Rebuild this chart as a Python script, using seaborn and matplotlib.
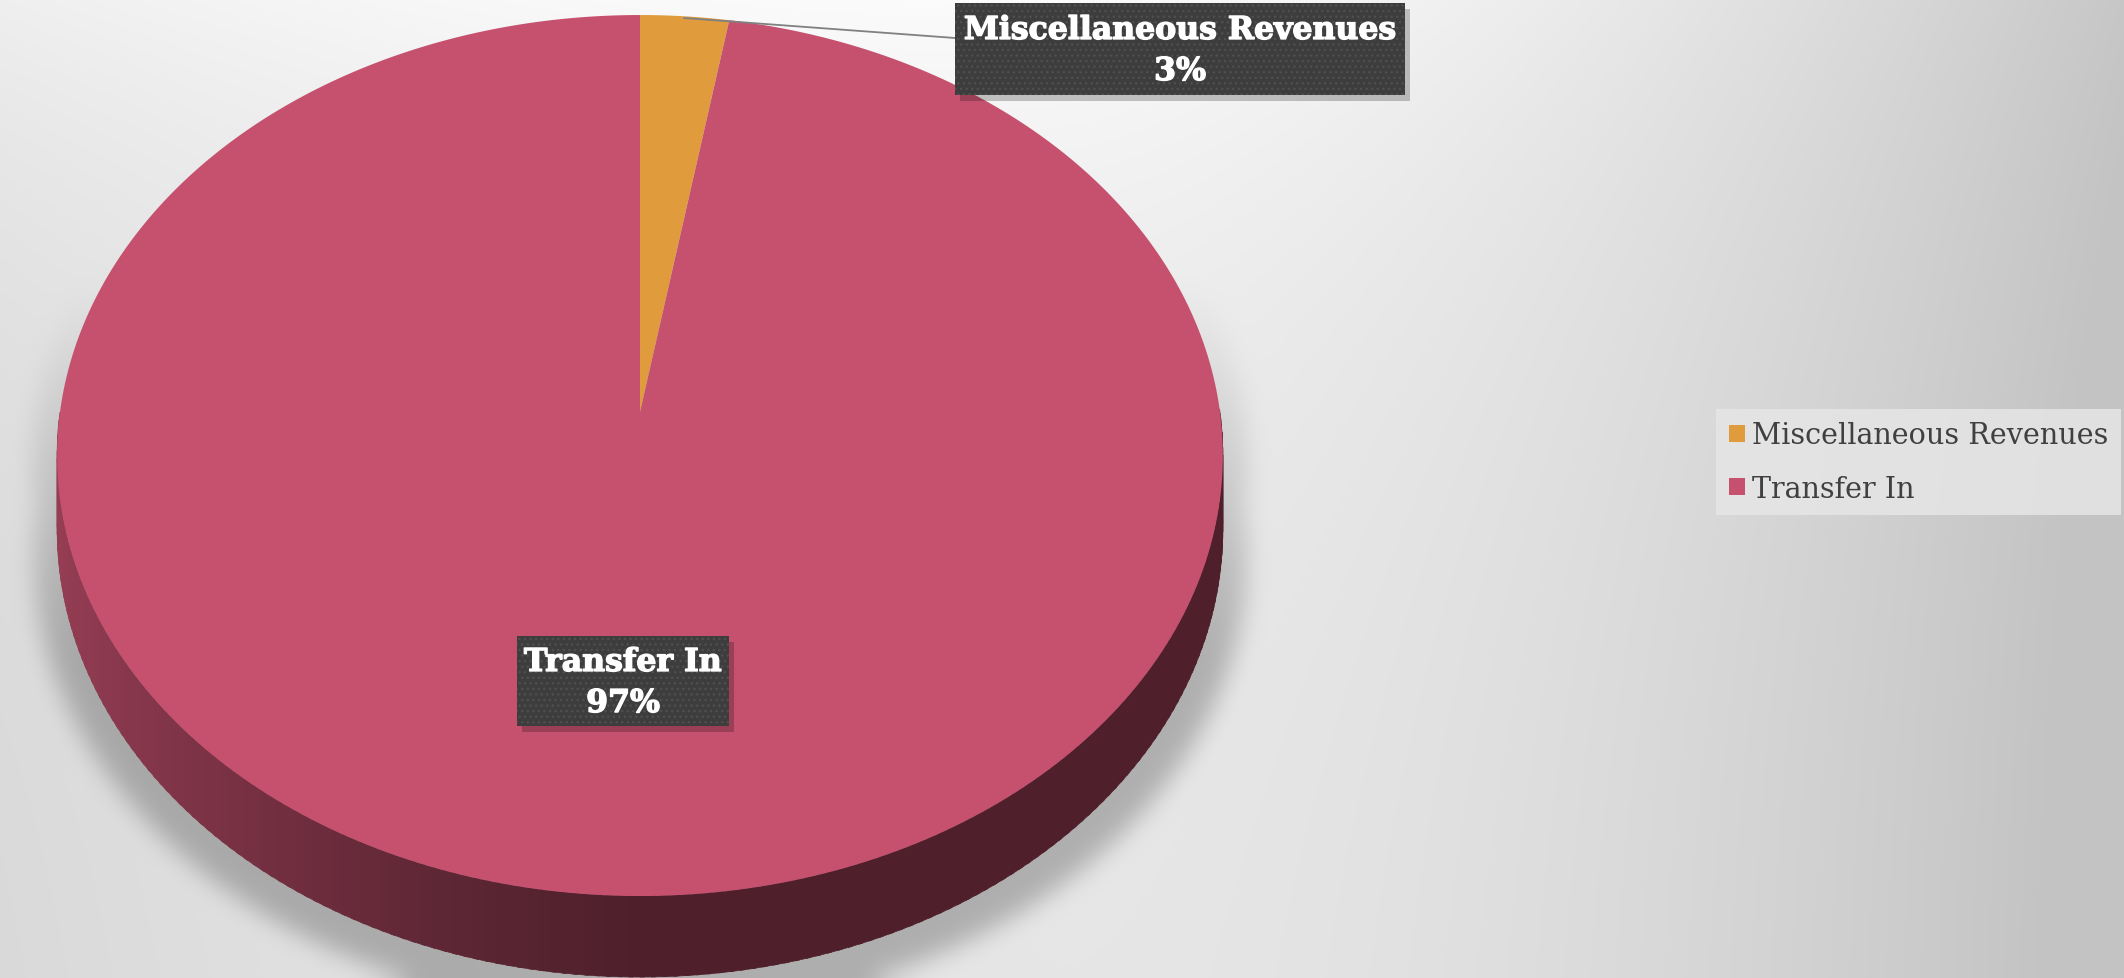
import numpy as np
import matplotlib
matplotlib.use("Agg")
import matplotlib.pyplot as plt
import seaborn as sns
import matplotlib.patheffects as pe
from matplotlib.patches import Polygon, Rectangle
from matplotlib.colors import to_rgb

# ---- data ----
categories = ["Miscellaneous Revenues", "Transfer In"]
shares = [2.7, 97.3]
colors = ["#E09B3C", "#C6516F"]

W, H = 2124, 979
sns.set_theme(style="white")
plt.rcParams['font.family'] = ['DejaVu Serif', 'DejaVu Sans']
plt.rcParams['hatch.color'] = '#545454'
plt.rcParams['hatch.linewidth'] = 1.0

fig = plt.figure(figsize=(W / 100, H / 100), dpi=100)

# perspective model of the tilted disc (pixel coords, y down)
CX, CY, R0, A, K, D = 640, 413, 580, 436.2, 0.0988, 73

def proj(x, v, h=0.0):
    s = 1.0 / (1.0 + K * v)
    return CX + R0 * x * s, CY - A * v * s + D * s * h

# ---- background with soft shadow ----
yy, xx = np.mgrid[0:H, 0:W].astype(float)
xr = np.clip((xx - 1000) / 1124, 0, 1)
yterm = 0.09 * (1 - np.exp(-yy / 350))
bg = (0.985 - 0.048 * ((xx - 1000) / 1000) ** 2 - 0.145 * xr ** 1.6
      - yterm * (1 - 0.6 * xr))
bg = np.maximum(bg, 0.765)

def box_blur(a, r):
    for axis in (0, 1):
        for _ in range(3):
            pad = [(r + 1, r) if i == axis else (0, 0) for i in range(2)]
            c = np.cumsum(np.pad(a, pad, mode='edge'), axis=axis)
            if axis == 0:
                a = (c[2 * r + 1:, :] - c[:-2 * r - 1, :]) / (2 * r + 1)
            else:
                a = (c[:, 2 * r + 1:] - c[:, :-2 * r - 1]) / (2 * r + 1)
    return a

def inside(X, Y, scale=1.0):
    u = (CY - Y) / A
    v = u / (1 - K * u)
    x = (X - CX) * (1 + K * v) / R0
    return (x ** 2 + v ** 2) <= scale ** 2

sh = (inside(xx, yy, 1.04) | inside(xx, yy - 95, 1.04)).astype(float)
sh *= np.clip((yy - 280) / 380, 0, 1)
sh = box_blur(sh, 11)
bg = bg * (1 - 0.24 * sh)

bg_ax = fig.add_axes([0, 0, 1, 1], zorder=0)
bg_ax.imshow(np.dstack([bg, bg, bg]), extent=(0, W, H, 0), aspect='auto', interpolation='bilinear')
bg_ax.set_xlim(0, W); bg_ax.set_ylim(H, 0); bg_ax.axis('off')

# ---- pie computed by the library, then drawn in perspective ----
calc_ax = fig.add_axes([0, 0, 0.01, 0.01], zorder=-1)
wedges, _ = calc_ax.pie(shares, colors=colors, startangle=90, counterclock=False)
calc_ax.set_visible(False)

ov = fig.add_axes([0, 0, 1, 1], zorder=2)
ov.patch.set_alpha(0)
ov.set_xlim(0, W); ov.set_ylim(H, 0); ov.axis('off')

# side of the cylinder
step = 1.0
for a in np.arange(180, 360, step):
    mid = a + step / 2
    for w in wedges:
        if (mid - w.theta1) % 360 <= (w.theta2 - w.theta1):
            base = np.array(to_rgb(w.get_facecolor()[:3]))
            f = 0.40 + 0.36 * np.clip(-np.cos(np.radians(mid)), 0, 1) ** 1.3
            col = np.clip(base * f, 0, 1)
            th = np.radians([a, a + step + 0.4])
            x0, y0 = proj(np.cos(th), np.sin(th), 0)
            x1, y1 = proj(np.cos(th), np.sin(th), 1)
            poly = np.array([[x0[0], y0[0]], [x0[1], y0[1]], [x1[1], y1[1]], [x1[0], y1[0]]])
            ov.add_patch(Polygon(poly, closed=True, fc=col, ec=col, lw=0.5, zorder=2))
            break

# top faces
for w in wedges:
    th = np.radians(np.linspace(w.theta1, w.theta2, 400))
    px, py = proj(np.cos(th), np.sin(th), 0)
    pts = np.vstack([[CX, CY], np.column_stack([px, py])])
    ov.add_patch(Polygon(pts, closed=True, fc=w.get_facecolor(), ec='none', lw=0, zorder=3))

# ---- data labels ----
def label_box(x0, y0, w, h, text):
    ov.add_patch(Rectangle((x0 + 5, y0 + 6), w, h, fc='black', alpha=0.22, lw=0, zorder=5))
    ov.add_patch(Rectangle((x0, y0), w, h, fc='#3d3d3d', ec='#4f4f4f', lw=0, hatch='...', zorder=6))
    ov.text(x0 + w / 2, y0 + h / 2 + 2, text, ha='center', va='center', color='white',
            fontsize=22.7, fontweight='bold', linespacing=1.42, zorder=7,
            path_effects=[pe.withStroke(linewidth=1.0, foreground='white')])

ov.plot([684, 955], [19, 39], color='#808080', lw=1.3, zorder=4)
pct = [100 * s / sum(shares) for s in shares]
label_box(955, 4, 450, 92, f"{categories[0]}\n{pct[0]:.0f}%")
label_box(517, 637, 212, 90, f"{categories[1]}\n{pct[1]:.0f}%")

# ---- legend ----
handles = [Rectangle((0, 0), 1, 1, fc=w.get_facecolor(), lw=0) for w in wedges]
leg = ov.legend(handles, categories, loc='center left',
                bbox_to_anchor=(1716 / W, 1 - 463 / H), bbox_transform=fig.transFigure,
                borderaxespad=0, frameon=True, fancybox=False, facecolor='#e6e6e6',
                edgecolor='none', framealpha=0.85,
                fontsize=20.6, handlelength=0.55, handleheight=0.55, handletextpad=0.25,
                labelspacing=0.88, borderpad=0.45, labelcolor='#404040')

fig.savefig("out.png", dpi=100)
